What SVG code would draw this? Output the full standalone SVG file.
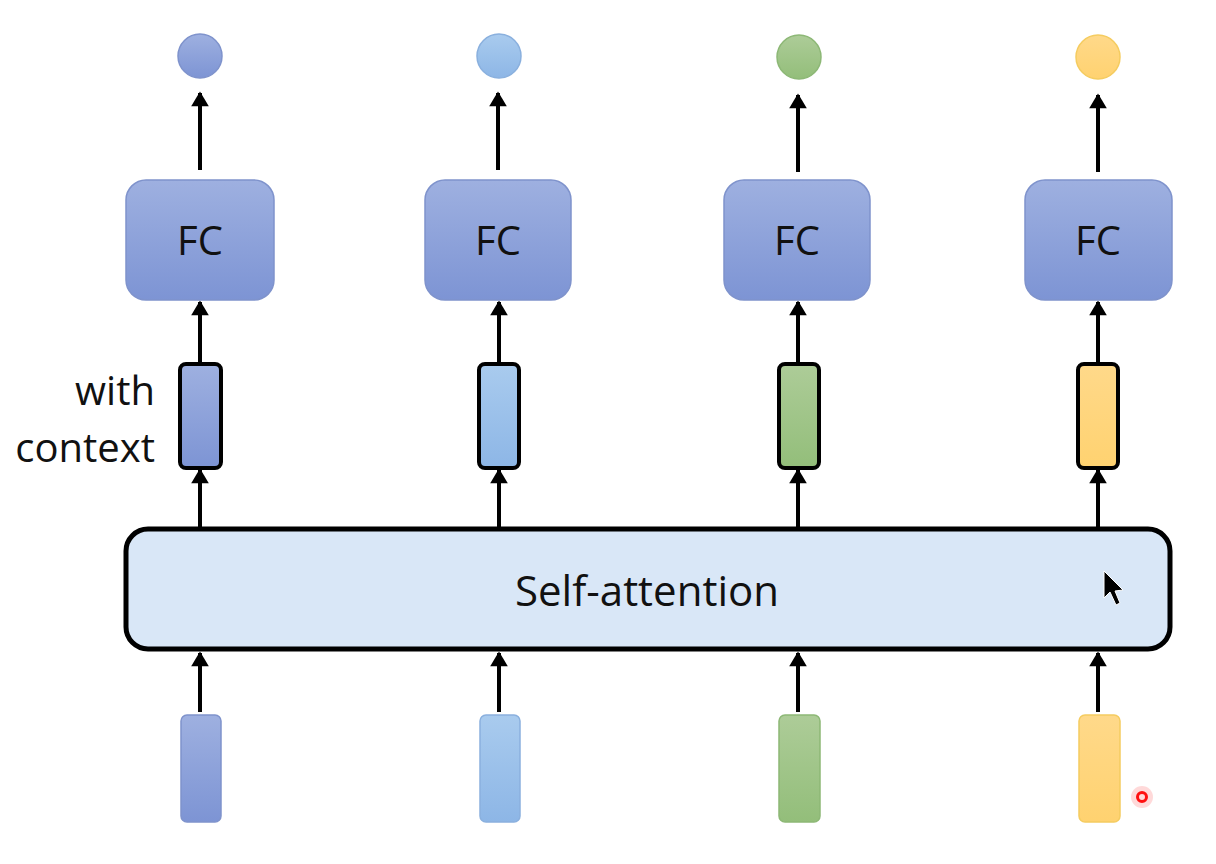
<svg xmlns="http://www.w3.org/2000/svg" width="1216" height="864" viewBox="0 0 1216 864">
<defs>
<linearGradient id="gBlue" x1="0" y1="0" x2="0" y2="1"><stop offset="0" stop-color="#9EB0E0"/><stop offset="1" stop-color="#7D94D4"/></linearGradient>
<linearGradient id="gLight" x1="0" y1="0" x2="0" y2="1"><stop offset="0" stop-color="#A9CBEE"/><stop offset="1" stop-color="#8DB6E6"/></linearGradient>
<linearGradient id="gGreen" x1="0" y1="0" x2="0" y2="1"><stop offset="0" stop-color="#ADCC98"/><stop offset="1" stop-color="#93BE7A"/></linearGradient>
<linearGradient id="gYellow" x1="0" y1="0" x2="0" y2="1"><stop offset="0" stop-color="#FFD98A"/><stop offset="1" stop-color="#FFD270"/></linearGradient>
<marker id="ah" viewBox="0 0 10 12" refX="9" refY="6" markerWidth="4.4" markerHeight="4.4" orient="auto" markerUnits="strokeWidth"><path d="M0,0 L10,6 L0,12 Z" fill="#000"/></marker>
<style>
.lbl{font-family:"Open Sans","Liberation Sans",sans-serif;font-size:40px;fill:#111;}
.big{font-size:42px;}
.fc{stroke:#7F93CC;stroke-width:1.5;fill:url(#gBlue);}
.ctx{stroke:#000;stroke-width:4;}
.inp{stroke-width:1.5;}
.con{stroke:#000;stroke-width:4;fill:none;marker-end:url(#ah);}
</style>
</defs>
<rect width="1216" height="864" fill="#fff"/>
<g id="connectors">
<line class="con" x1="200" y1="170" x2="200" y2="93"/>
<line class="con" x1="498" y1="170" x2="498" y2="93"/>
<line class="con" x1="798" y1="172" x2="798" y2="95"/>
<line class="con" x1="1098" y1="172" x2="1098" y2="95"/>
<line class="con" x1="200" y1="363" x2="200" y2="302"/>
<line class="con" x1="499" y1="363" x2="499" y2="302"/>
<line class="con" x1="798" y1="363" x2="798" y2="302"/>
<line class="con" x1="1098" y1="363" x2="1098" y2="302"/>
<line class="con" x1="200" y1="528" x2="200" y2="470"/>
<line class="con" x1="499" y1="528" x2="499" y2="470"/>
<line class="con" x1="798" y1="528" x2="798" y2="470"/>
<line class="con" x1="1098" y1="528" x2="1098" y2="470"/>
<line class="con" x1="200" y1="712" x2="200" y2="653"/>
<line class="con" x1="499" y1="712" x2="499" y2="653"/>
<line class="con" x1="798" y1="712" x2="798" y2="653"/>
<line class="con" x1="1098" y1="712" x2="1098" y2="653"/>
</g>
<g id="out1"><circle cx="200" cy="56" r="22" fill="url(#gBlue)" stroke="#7F93CC" stroke-width="1.5"/></g>
<g id="out2"><circle cx="499" cy="56" r="22" fill="url(#gLight)" stroke="#8AB0DE" stroke-width="1.5"/></g>
<g id="out3"><circle cx="799" cy="57" r="22" fill="url(#gGreen)" stroke="#8DB876" stroke-width="1.5"/></g>
<g id="out4"><circle cx="1098" cy="57" r="22" fill="url(#gYellow)" stroke="#F5CC60" stroke-width="1.5"/></g>
<g id="fc1"><rect class="fc" x="126" y="180" width="148" height="120" rx="20"/><text class="lbl" x="200" y="255" text-anchor="middle">FC</text></g>
<g id="fc2"><rect class="fc" x="425" y="180" width="146" height="120" rx="20"/><text class="lbl" x="498" y="255" text-anchor="middle">FC</text></g>
<g id="fc3"><rect class="fc" x="724" y="180" width="146" height="120" rx="20"/><text class="lbl" x="797" y="255" text-anchor="middle">FC</text></g>
<g id="fc4"><rect class="fc" x="1025" y="180" width="147" height="120" rx="20"/><text class="lbl" x="1098" y="255" text-anchor="middle">FC</text></g>
<g id="ctx1"><rect class="ctx" x="180" y="364" width="41" height="104" rx="6" fill="url(#gBlue)"/></g>
<g id="ctx2"><rect class="ctx" x="479" y="364" width="40" height="104" rx="6" fill="url(#gLight)"/></g>
<g id="ctx3"><rect class="ctx" x="779" y="364" width="40" height="104" rx="6" fill="url(#gGreen)"/></g>
<g id="ctx4"><rect class="ctx" x="1078" y="364" width="40" height="104" rx="6" fill="url(#gYellow)"/></g>
<g id="label"><text class="lbl" x="155" y="405" text-anchor="end">with</text><text class="lbl" x="155" y="462" text-anchor="end">context</text></g>
<g id="selfattn"><rect x="126" y="529" width="1044" height="120" rx="22" fill="#D9E7F7" stroke="#000" stroke-width="5"/><text class="lbl big" x="647" y="606" text-anchor="middle">Self-attention</text></g>
<g id="in1"><rect class="inp" x="181" y="715" width="40" height="107" rx="6" fill="url(#gBlue)" stroke="#7F93CC"/></g>
<g id="in2"><rect class="inp" x="480" y="715" width="40" height="107" rx="6" fill="url(#gLight)" stroke="#8AB0DE"/></g>
<g id="in3"><rect class="inp" x="779" y="715" width="41" height="107" rx="6" fill="url(#gGreen)" stroke="#8DB876"/></g>
<g id="in4"><rect class="inp" x="1079" y="715" width="41" height="107" rx="6" fill="url(#gYellow)" stroke="#F5CC60"/></g>
<g id="cursor"><path d="M1104,571 L1104,598 L1110,592 L1116,605 L1120,603 L1115,591 L1123,590 Z" fill="#000" stroke="#fff" stroke-width="1"/></g>
<g id="dot"><circle cx="1142" cy="797" r="11" fill="#FF0000" opacity="0.15"/><circle cx="1142" cy="797" r="4.5" fill="none" stroke="#FF1010" stroke-width="3"/></g>
</svg>
